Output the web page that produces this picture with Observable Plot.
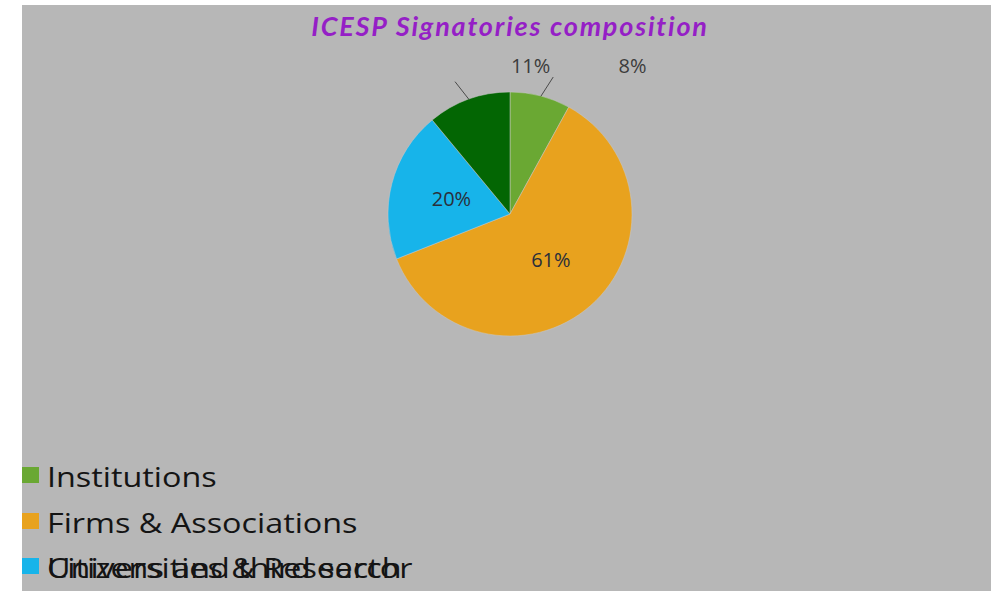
<!DOCTYPE html>
<html>
<head>
<meta charset="utf-8">
<script src="https://cdn.jsdelivr.net/npm/d3@7"></script>
<script src="https://cdn.jsdelivr.net/npm/@observablehq/plot@0.6"></script>
<style>
html, body { margin: 0; padding: 0; background: #fff; width: 991px; height: 591px; overflow: hidden; }
#panel { position: absolute; left: 22px; top: 5px; width: 969px; height: 586px; background: #b7b7b7; overflow: hidden; }
#title { position: absolute; left: 0; width: 976px; top: 7px; text-align: center; font-family: Lato, "Open Sans", sans-serif; font-weight: bold; font-style: italic; font-size: 27px; line-height: 27px; letter-spacing: 1.8px; color: #951fc6; }
#chart { position: absolute; left: 0; top: 35px; }
.lg-sw { position: absolute; left: 0; width: 17px; height: 16px; }
.lg-tx { position: absolute; left: 25px; font-family: "Open Sans", sans-serif; font-size: 28px; line-height: 28px; color: #141414; white-space: nowrap; transform: scaleX(1.155); transform-origin: 0 0; }
</style>
</head>
<body>
<div id="panel">
  <div id="title"></div>
  <div id="chart"></div>
  <div id="legend"></div>
</div>
<script>
const chartTitle = "ICESP Signatories composition";
const categories = ["Institutions", "Firms & Associations", "Universities & Research", "Citizens and third sector"];
const shares = [8, 61, 20, 11];
const sliceColors = ["#6aa833", "#e8a21e", "#17b4ea", "#036603"];
const pctLabels = ["8%", "61%", "20%", "11%"];

document.getElementById("title").textContent = chartTitle;

const data = categories.map((c, i) => ({category: c, share: shares[i], label: pctLabels[i]}));
const color = Plot.scale({color: {type: "ordinal", domain: categories, range: sliceColors}});

const arcs = d3.pie().sort(null).value(d => d.share)(data);
const mid = a => (a.startAngle + a.endAngle) / 2;

// inside labels for large slices
const inside = arcs.filter(a => a.data.share >= 15).map(a => ({
  label: a.data.label,
  x: 0.5 * Math.sin(mid(a)),
  y: 0.5 * Math.cos(mid(a))
}));
// leader lines for small slices
const small = arcs.filter(a => a.data.share < 15);
const leaders = small.map(a => {
  const m = mid(a);
  const s = Math.sin(m) >= 0 ? 1 : -1;
  const m2 = m + s * 0.05;
  return {x1: Math.sin(m), y1: Math.cos(m), x2: 1.18 * Math.sin(m2), y2: 1.18 * Math.cos(m2)};
});
// outside labels (placed as in the source rendering, on a row above the pie)
const outsideX = {"Citizens and third sector": 0.165, "Institutions": 1.0};
const outside = small.map(a => ({label: a.data.label, x: outsideX[a.data.category], y: 1.213}));

function pie(index, scales) {
  const cx = scales.x(0), cy = scales.y(0), r = scales.x(1) - scales.x(0);
  const g = d3.create("svg:g").attr("transform", `translate(${cx},${cy})`);
  const arc = d3.arc().innerRadius(0).outerRadius(r);
  g.selectAll("path").data(arcs).join("path")
    .attr("d", arc)
    .attr("fill", d => color.apply(d.data.category))
    .attr("stroke", "#c8c8c8")
    .attr("stroke-width", 0.5);
  return g.node();
}

const plot = Plot.plot({
  width: 969,
  height: 360,
  margin: 0,
  style: {background: "transparent", overflow: "visible"},
  x: {domain: [-1, 1], range: [366, 610], axis: null},
  y: {domain: [-1, 1], range: [296, 52], axis: null},
  marks: [
    pie,
    Plot.link(leaders, {x1: "x1", y1: "y1", x2: "x2", y2: "y2", stroke: "#4a4a4a", strokeWidth: 1}),
    Plot.text(inside, {x: "x", y: "y", text: "label", fontSize: 20, fill: "#2a2f3a", fontFamily: "'Open Sans', sans-serif"}),
    Plot.text(outside, {x: "x", y: "y", text: "label", fontSize: 20, fill: "#3c3c3c", fontFamily: "'Open Sans', sans-serif"})
  ]
});
document.getElementById("chart").appendChild(plot);

// Legend (the last two entries overlap, as in the source)
const legend = document.getElementById("legend");
const rowTop = [457, 503, 548, 548];
categories.forEach((c, i) => {
  const sw = document.createElement("div");
  sw.className = "lg-sw";
  sw.style.top = (rowTop[i] + 5) + "px";
  sw.style.background = color.apply(c);
  sw.style.zIndex = i === 2 ? 2 : 1;
  legend.appendChild(sw);
  const tx = document.createElement("div");
  tx.className = "lg-tx";
  tx.style.top = rowTop[i] + "px";
  tx.textContent = c;
  legend.appendChild(tx);
});
</script>
</body>
</html>
